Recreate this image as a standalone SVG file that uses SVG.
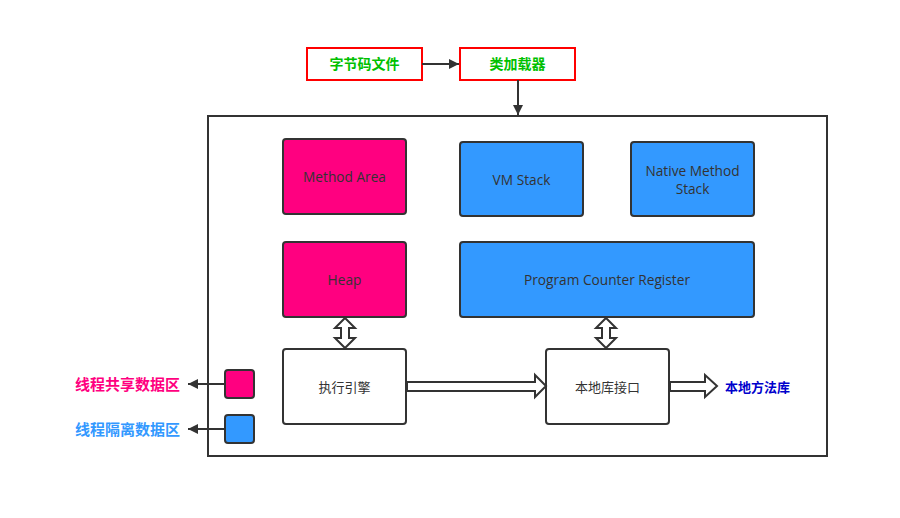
<svg xmlns="http://www.w3.org/2000/svg" width="900" height="518" viewBox="0 0 900 518">
<defs>
<marker id="ah" viewBox="0 0 10 10" refX="10" refY="5" markerWidth="10" markerHeight="10" markerUnits="userSpaceOnUse" orient="auto">
<path d="M0,0 L10,5 L0,10 Z" fill="#333"/>
</marker>
<style>
.node{stroke:#333;stroke-width:2}
.pink{fill:#ff0080}
.blue{fill:#3399ff}
.white{fill:#fff}
.t{font-family:"Open Sans","Noto Sans CJK SC",sans-serif;font-size:13.7px;fill:#333;text-anchor:middle}
.red{fill:#fff;stroke:#ff0000;stroke-width:2}
.g{font-family:"Noto Sans CJK SC",sans-serif;font-size:14px;font-weight:bold;fill:#00c000;text-anchor:middle}
.lbl{font-family:"Noto Sans CJK SC",sans-serif;font-weight:bold}
.conn{stroke:#333;stroke-width:2;fill:none}
.hollow{stroke:#333;stroke-width:2;fill:#fff;stroke-linejoin:miter}
</style>
</defs>
<rect x="208" y="116" width="619" height="340" fill="#fff" stroke="#333" stroke-width="2"/>
<g id="bytecode"><rect class="red" x="307" y="48" width="115" height="32"/><text class="g" x="364.5" y="69">字节码文件</text></g>
<g id="classloader"><rect class="red" x="460" y="48" width="115" height="32"/><text class="g" x="517.5" y="69">类加载器</text></g>
<g id="method-area"><rect class="node pink" x="283" y="139" width="123" height="75" rx="3"/><text class="t" x="344.5" y="182">Method Area</text></g>
<g id="vm-stack"><rect class="node blue" x="460" y="142" width="123" height="74" rx="3"/><text class="t" x="521.5" y="185">VM Stack</text></g>
<g id="native-stack"><rect class="node blue" x="631" y="142" width="123" height="74" rx="3"/><text class="t" x="692.5" y="176">Native Method</text><text class="t" x="692.5" y="194">Stack</text></g>
<g id="heap"><rect class="node pink" x="283" y="242" width="123" height="75" rx="3"/><text class="t" x="344.5" y="285">Heap</text></g>
<g id="pcr"><rect class="node blue" x="460" y="242" width="294" height="75" rx="3"/><text class="t" x="607" y="285">Program Counter Register</text></g>
<g id="engine"><rect class="node white" x="283" y="349" width="123" height="75" rx="3"/><text class="t" x="344.5" y="391.5" style="font-size:13px">执行引擎</text></g>
<g id="native-iface"><rect class="node white" x="546" y="349" width="123" height="75" rx="3"/><text class="t" x="607.5" y="391.5" style="font-size:13px">本地库接口</text></g>
<g id="shared-legend"><rect class="node pink" x="225" y="370" width="29" height="28" rx="3"/><text class="lbl" x="180" y="389.5" text-anchor="end" font-size="15" fill="#ff0080">线程共享数据区</text></g>
<g id="isolated-legend"><rect class="node blue" x="225" y="415" width="29" height="28" rx="3"/><text class="lbl" x="180" y="434.5" text-anchor="end" font-size="15" fill="#3399ff">线程隔离数据区</text></g>
<g id="native-lib"><text class="lbl" x="725" y="392" font-size="13" fill="#0000cc">本地方法库</text></g>
<g id="connectors">
<line class="conn" x1="422" y1="64" x2="459" y2="64" marker-end="url(#ah)"/>
<line class="conn" x1="518" y1="80" x2="518" y2="115" marker-end="url(#ah)"/>
<line class="conn" x1="224" y1="384" x2="188" y2="384" marker-end="url(#ah)"/>
<line class="conn" x1="224" y1="429" x2="188" y2="429" marker-end="url(#ah)"/>
<path class="hollow" d="M345,318 L355,328 L349,328 L349,338 L355,338 L345,348 L335,338 L341,338 L341,328 L335,328 Z"/>
<path class="hollow" d="M606,318 L616,328 L610,328 L610,338 L616,338 L606,348 L596,338 L602,338 L602,328 L596,328 Z"/>
<path class="hollow" d="M407,382 L535,382 L535,375 L546,386 L535,397 L535,391 L407,391 Z"/>
<path class="hollow" d="M670,382 L705,382 L705,375 L717,386 L705,397 L705,391 L670,391 Z"/>
</g>
</svg>
